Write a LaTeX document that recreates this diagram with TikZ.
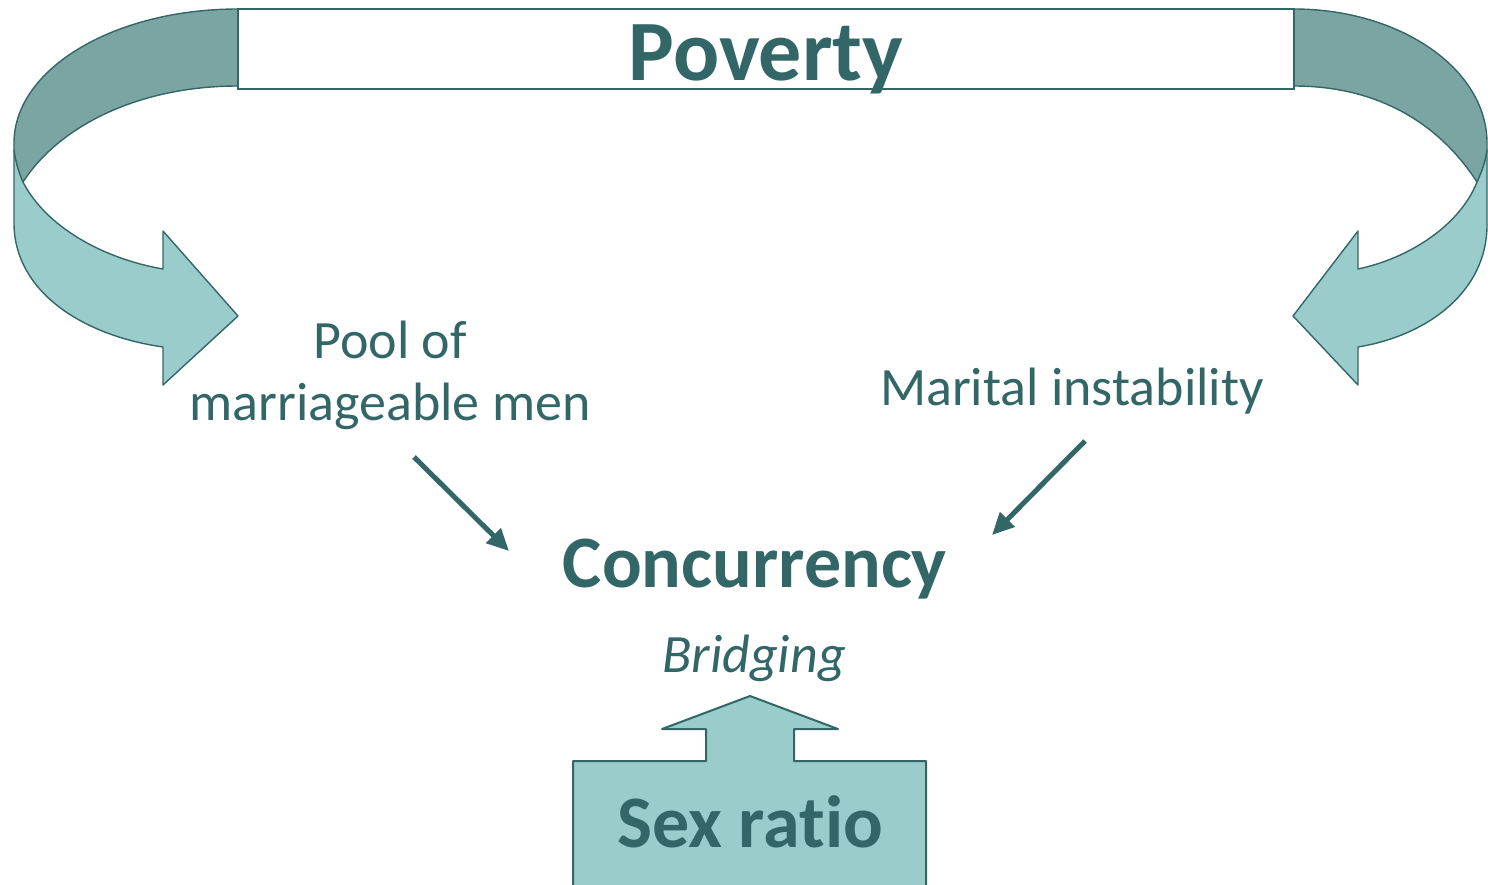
\documentclass[tikz,border=0pt]{standalone}
\usepackage{fontspec}
\setmainfont[Ligatures=NoCommon]{Carlito}
\usetikzlibrary{arrows.meta, positioning}
\definecolor{tealdark}{HTML}{336666}
\definecolor{teallight}{HTML}{9ACCCC}
\definecolor{tealmid}{HTML}{7BA5A3}

\begin{document}
\begin{tikzpicture}[x=0.5pt, y=-0.5pt,
    ribbon/.style={draw=tealdark, line width=0.7pt, line join=round},
    title/.style={text=tealdark, font=\bfseries\fontsize{43}{52}\selectfont, inner sep=0pt},
    factor/.style={text=tealdark, font=\fontsize{27}{31}\selectfont, inner sep=0pt, align=center},
    link/.style={draw=tealdark, line width=2.5pt, -{Triangle[length=11pt, width=10pt]}}]

    \useasboundingbox (0,0) rectangle (1488,884);

    % left curved arrow
    \filldraw[ribbon, fill=teallight] (14,150) -- (14,223)
        .. controls (14,290) and (80,335) .. (163,347) -- (163,385) -- (238,316)
        -- (163,231) -- (163,269) .. controls (100,258) and (45,225) .. (23,182) -- cycle;
    \filldraw[ribbon, fill=tealmid] (238,9) .. controls (114,9) and (14,69) .. (14,143)
        -- (14,150) .. controls (16,165) and (20,175) .. (23,182)
        .. controls (60,125) and (140,86) .. (238,86) -- cycle;

    % right curved arrow
    \filldraw[ribbon, fill=teallight] (1487,150) -- (1487,225)
        .. controls (1487,290) and (1430,335) .. (1358,347) -- (1358,385) -- (1293,316)
        -- (1358,231) -- (1358,269) .. controls (1410,258) and (1460,225) .. (1477,182) -- cycle;
    \filldraw[ribbon, fill=tealmid] (1294,9) .. controls (1400,9) and (1487,69) .. (1487,143)
        -- (1487,150) .. controls (1485,165) and (1480,175) .. (1477,182)
        .. controls (1440,125) and (1380,86) .. (1294,86) -- cycle;

    \node[draw=tealdark, line width=1pt, fill=white, minimum width=528pt, minimum height=40pt] (povbox) at (766,49) {};
    \node[title, anchor=base] (poverty) at (766,80) {Poverty};

    \node[factor, anchor=base] (pool) at (390,420) {Pool of\\marriageable men};
    \node[factor, anchor=base] (marital) at (1072,405) {Marital instability};

    \node[title, font=\bfseries\fontsize{37}{44}\selectfont, anchor=base] (conc) at (755,587) {Concurrency};
    \node[factor, font=\itshape\fontsize{27}{31}\selectfont, anchor=base] (bridge) at (754,672) {Bridging};

    % sex ratio block arrow
    \filldraw[ribbon, line width=1pt, fill=teallight] (573,892) -- (573,761) -- (706,761) -- (706,729)
        -- (662,729) -- (750,696) -- (838,729) -- (794,729) -- (794,761) -- (926,761) -- (926,892);
    \node[title, font=\bfseries\fontsize{37}{44}\selectfont, anchor=base] (sex) at (750,847) {Sex ratio};

    \coordinate (poolout) at (414,457);
    \coordinate (concleft) at (509,551);
    \coordinate (maritalout) at (1085,441);
    \coordinate (concright) at (992,535);
    \draw[link] (poolout) -- (concleft);
    \draw[link] (maritalout) -- (concright);
\end{tikzpicture}
\end{document}
